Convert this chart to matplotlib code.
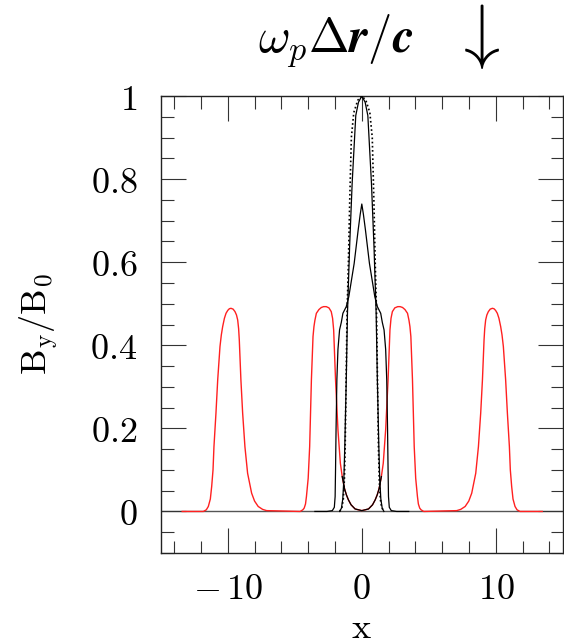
import numpy as np
import matplotlib
matplotlib.use("Agg")
import matplotlib.pyplot as plt
from matplotlib.ticker import MultipleLocator, FixedLocator

plt.rcParams['mathtext.fontset'] = 'cm'
plt.rcParams['font.family'] = ['DejaVu Serif']

# red curve: four humps, later time
red_x = [-13.4, -12.2, -11.82, -11.6, -11.45, -11.3, -11.2, -11.1, -11.03, -10.88, -10.75,
         -10.58, -10.48, -10.38, -10.25, -10.13, -10.0, -9.88, -9.76, -9.6, -9.46, -9.35,
         -9.26, -9.19, -9.14, -9.02, -8.89, -8.72, -8.52, -8.35, -8.22, -8.0, -7.73, -7.4, -7.1,
         -4.6, -4.4, -4.3, -4.2, -4.13, -4.0, -3.89, -3.76, -3.64, -3.57, -3.5, -3.39, -3.2,
         -3.02, -2.85, -2.65, -2.45, -2.28, -2.18, -2.1, -1.96, -1.78, -1.6, -1.46,
         -1.38, -1.29, -1.15, -1.0, -0.8, -0.5, 0.0, 0.5, 0.8, 1.0, 1.15, 1.29, 1.38,
         1.46, 1.6, 1.78, 1.96, 2.1, 2.18, 2.28, 2.46, 2.68, 2.86, 3.04, 3.22, 3.41, 3.52,
         3.59, 3.66, 3.78, 3.91, 4.02, 4.15, 4.22, 4.32, 4.42, 4.62,
         7.08, 7.38, 7.71, 7.98, 8.2, 8.33, 8.5, 8.7, 8.87, 9.0, 9.12, 9.17, 9.24, 9.33,
         9.44, 9.58, 9.74, 9.86, 9.98, 10.11, 10.23, 10.36, 10.46, 10.56, 10.73, 10.86,
         11.01, 11.08, 11.18, 11.28, 11.43, 11.58, 11.8, 12.2, 13.46]
red_y = [0.0, 0.0, 0.0, 0.004, 0.012, 0.03, 0.06, 0.1, 0.156, 0.237, 0.317,
         0.397, 0.425, 0.445, 0.465, 0.477, 0.484, 0.488, 0.489, 0.487, 0.481, 0.473,
         0.461, 0.44, 0.413, 0.317, 0.237, 0.156, 0.092, 0.065, 0.044, 0.025, 0.012, 0.005, 0.002,
         0.0, 0.004, 0.008, 0.018, 0.036, 0.08, 0.156, 0.317, 0.421, 0.445, 0.46, 0.477, 0.486,
         0.491, 0.493, 0.493, 0.49, 0.481, 0.465, 0.437, 0.317, 0.197, 0.116, 0.084,
         0.07, 0.055, 0.04, 0.028, 0.016, 0.006, 0.002, 0.006, 0.016, 0.028, 0.04, 0.055, 0.07,
         0.084, 0.116, 0.197, 0.317, 0.437, 0.465, 0.481, 0.49, 0.493, 0.493, 0.491, 0.486, 0.477, 0.46,
         0.445, 0.421, 0.317, 0.156, 0.08, 0.036, 0.018, 0.008, 0.004, 0.0,
         0.002, 0.005, 0.012, 0.025, 0.044, 0.065, 0.092, 0.156, 0.237, 0.317, 0.413, 0.44, 0.461, 0.473,
         0.481, 0.487, 0.489, 0.488, 0.484, 0.477, 0.465, 0.445, 0.425, 0.397, 0.317, 0.237,
         0.156, 0.1, 0.06, 0.03, 0.012, 0.004, 0.0, 0.0, 0.0]

# initial profile (dotted)
dot_x = [-1.65, -1.48, -1.38, -1.3, -1.24, -1.17, -1.1, -1.0, -0.9, -0.78, -0.6, -0.3, 0.0,
         0.3, 0.6, 0.78, 0.9, 1.0, 1.1, 1.17, 1.24, 1.3, 1.38, 1.48, 1.65]
dot_y = [0.0, 0.01, 0.03, 0.076, 0.156, 0.317, 0.477, 0.6, 0.75, 0.9, 0.96, 0.99, 1.0,
         0.99, 0.96, 0.9, 0.75, 0.6, 0.477, 0.317, 0.156, 0.076, 0.03, 0.01, 0.0]

# narrow solid profile, peak 1
tall_x = [-1.65, -1.52, -1.42, -1.34, -1.27, -1.16, -1.07, -0.91, -0.72, -0.45, -0.25, 0.0,
          0.25, 0.45, 0.72, 0.91, 1.07, 1.16, 1.27, 1.34, 1.42, 1.52, 1.65]
tall_y = [0.0, 0.008, 0.03, 0.076, 0.156, 0.317, 0.477, 0.637, 0.79, 0.953, 0.985, 1.0,
          0.985, 0.953, 0.79, 0.637, 0.477, 0.317, 0.156, 0.076, 0.03, 0.008, 0.0]

# solid profile with shoulders, peak 0.74
mid_x = [-3.5, -2.6, -2.2, -2.05, -1.99, -1.96, -1.92, -1.86, -1.78, -1.66, -1.53, -1.41,
         -1.16, -0.97, -0.57, -0.27, -0.12, 0.0, 0.12, 0.27, 0.57, 0.97, 1.16, 1.41, 1.53,
         1.66, 1.78, 1.86, 1.92, 1.96, 1.99, 2.05, 2.2, 2.6, 3.5]
mid_y = [0.0, 0.0, 0.002, 0.01, 0.036, 0.1, 0.2, 0.317, 0.39, 0.437, 0.455, 0.477,
         0.493, 0.517, 0.597, 0.678, 0.715, 0.74, 0.715, 0.678, 0.597, 0.517, 0.493, 0.477, 0.455,
         0.437, 0.39, 0.317, 0.2, 0.1, 0.036, 0.01, 0.002, 0.0, 0.0]

x_ticks = [-10, 0, 10]
x_labels = [r'$-\,10$', r'$0$', r'$10$']
y_ticks = [0, 0.2, 0.4, 0.6, 0.8, 1.0]
y_labels = [r'$0$', r'$0.2$', r'$0.4$', r'$0.6$', r'$0.8$', r'$1$']

fig = plt.figure(figsize=(5.64, 6.44), dpi=100)
ax = fig.add_axes([0.285, 0.1413, 0.713, 0.7096])

ax.axhline(0, color='#555555', lw=1.0, zorder=1)
ax.plot(red_x, red_y, color='#ff2020', lw=1.0, zorder=2)
rx = np.array(red_x)
ry = np.array(red_y)
centre = np.abs(rx) <= 1.46
ax.plot(rx[centre], ry[centre], color='black', lw=0.9, zorder=3)
ax.plot(mid_x, mid_y, color='black', lw=0.9, zorder=3)
ax.plot(tall_x, tall_y, color='black', lw=0.9, zorder=3)
ax.plot(dot_x, dot_y, color='black', lw=1.2, ls=(0, (1, 1.5)), zorder=3)

ax.set_xlim(-15, 15)
ax.set_ylim(-0.1, 1.0)
ax.xaxis.set_major_locator(FixedLocator(x_ticks))
ax.set_xticklabels(x_labels)
ax.xaxis.set_minor_locator(MultipleLocator(2))
ax.yaxis.set_major_locator(FixedLocator(y_ticks))
ax.set_yticklabels(y_labels)
ax.yaxis.set_minor_locator(MultipleLocator(0.05))

ax.tick_params(which='both', direction='in', top=True, right=True,
               color='#333333', width=0.8, labelsize=26)
ax.tick_params(which='major', length=18)
ax.tick_params(which='minor', length=9)
ax.tick_params(axis='y', pad=17)
ax.tick_params(axis='x', pad=14)
for s in ax.spines.values():
    s.set_color('#222222')
    s.set_linewidth(1.0)

ax.set_xlabel(r'$\mathrm{x}$', fontsize=26, labelpad=3)
ax.set_ylabel(r'$\mathrm{B_y/B_0}$', fontsize=26, labelpad=22)

fig.text(0.595, 0.936, r'$\boldsymbol{\omega_p \Delta r/c}$', fontsize=35,
         ha='center', va='center')
fig.text(0.843, 0.944, r'$\downarrow$', fontsize=52, ha='center', va='center')

fig.savefig('out.png', dpi=100)
